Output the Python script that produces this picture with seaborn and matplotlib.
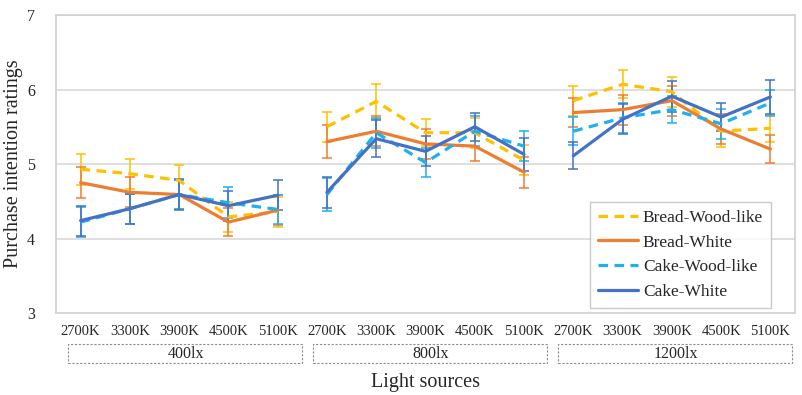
import numpy as np
import pandas as pd
import matplotlib
matplotlib.use('Agg')
import matplotlib.pyplot as plt
from matplotlib.patches import Rectangle
import seaborn as sns

# data
cct = ['2700K', '3300K', '3900K', '4500K', '5100K']
lux = ['400lx', '800lx', '1200lx']
series = ['Bread-Wood-like', 'Bread-White', 'Cake-Wood-like', 'Cake-White']

bread_wood = [4.93, 4.87, 4.78, 4.29, 4.36,
              5.50, 5.84, 5.42, 5.42, 5.05,
              5.85, 6.07, 5.97, 5.44, 5.48]
bread_white = [4.75, 4.62, 4.59, 4.22, 4.38,
               5.30, 5.44, 5.27, 5.24, 4.89,
               5.69, 5.73, 5.85, 5.47, 5.20]
cake_wood = [4.22, 4.40, 4.59, 4.48, 4.39,
             4.59, 5.42, 5.02, 5.44, 5.24,
             5.44, 5.62, 5.73, 5.54, 5.82]
cake_white = [4.24, 4.40, 4.59, 4.44, 4.58,
              4.62, 5.34, 5.17, 5.50, 5.13,
              5.11, 5.60, 5.91, 5.63, 5.90]

bread_wood_err = [0.21, 0.20, 0.20, 0.20, 0.20,
                  0.20, 0.23, 0.18, 0.20, 0.20,
                  0.20, 0.19, 0.20, 0.21, 0.18]
bread_white_err = [0.21, 0.20, 0.20, 0.19, 0.20,
                   0.22, 0.20, 0.20, 0.20, 0.21,
                   0.19, 0.20, 0.20, 0.20, 0.19]
cake_wood_err = [0.20, 0.20, 0.20, 0.21, 0.20,
                 0.22, 0.20, 0.20, 0.20, 0.20,
                 0.19, 0.20, 0.18, 0.20, 0.18]
cake_white_err = [0.20, 0.20, 0.21, 0.20, 0.20,
                  0.21, 0.25, 0.20, 0.19, 0.22,
                  0.18, 0.20, 0.21, 0.19, 0.23]

values = [bread_wood, bread_white, cake_wood, cake_white]
errors = [bread_wood_err, bread_white_err, cake_wood_err, cake_white_err]
colors = ['#FFC000', '#ED7D31', '#1FB0EE', '#4472C4']

rows = []
for s, v, e in zip(series, values, errors):
    for i in range(len(v)):
        rows.append({'pos': i, 'rating': v[i], 'err': e[i], 'series': s,
                     'group': lux[i // 5]})
df = pd.DataFrame(rows)

sns.set_style('white')
plt.rcParams['font.family'] = ['Liberation Serif', 'DejaVu Serif']

fig = plt.figure(figsize=(8.02, 3.95), dpi=100)
ax = fig.add_axes([0.0698, 0.2076, 0.9215, 0.7544])

for y in [4, 5, 6, 7]:
    ax.axhline(y, color='#D9D9D9', lw=1.2, zorder=0)

palette = dict(zip(series, colors))
dashes = {'Bread-Wood-like': (3, 2), 'Bread-White': '', 'Cake-Wood-like': (3, 2), 'Cake-White': ''}

# error bars first, then lines on top
for s, c in zip(series, colors):
    d = df[df['series'] == s]
    ax.errorbar(d['pos'], d['rating'], yerr=d['err'], fmt='none', ecolor=c,
                elinewidth=1.1, capsize=3.5, capthick=1.1, zorder=2)

sns.lineplot(data=df, x='pos', y='rating', hue='series', style='series',
             units='group', estimator=None, palette=palette, dashes=dashes,
             hue_order=series, style_order=series, lw=2.3, ax=ax, zorder=3)

ax.set_xlim(-0.5, 14.5)
ax.set_ylim(3, 7)
ax.set_yticks([3, 4, 5, 6, 7])
ax.set_xticks(range(15))
ax.set_xticklabels(cct * 3)
ax.tick_params(axis='y', length=0, pad=15, labelsize=11.5)
ax.tick_params(axis='x', length=0, pad=9, labelsize=10.5)
for sp in ax.spines.values():
    sp.set_color('#D0D0D0')
    sp.set_linewidth(1.2)

ax.set_ylabel('Purchase intention ratings', fontsize=14.5)
ax.yaxis.set_label_coords(-0.045, 0.5)
ax.set_xlabel('Light sources', fontsize=14.5)
ax.xaxis.set_label_coords(0.5, -0.232)
ax.xaxis.label.set_va('center')

# dashed group boxes under the tick labels
trans = ax.get_xaxis_transform()
for g, name in enumerate(lux):
    x0 = g * 4.97 - 0.26
    ax.add_patch(Rectangle((x0, -0.168), 4.75, 0.064, transform=trans,
                           fill=False, ec='#8C8C8C', lw=0.8, ls=(0, (2, 1.5)),
                           clip_on=False))
    ax.text(x0 + 2.4, -0.137, name, transform=trans, ha='center',
            va='center', fontsize=11.5)

leg = ax.legend(loc='lower right', bbox_to_anchor=(0.9675, 0.0168),
                borderaxespad=0, fontsize=12.5, frameon=True, fancybox=False,
                handlelength=2.3, handletextpad=0.3, labelspacing=0.5,
                borderpad=0.45)
leg.get_frame().set_edgecolor('#BFBFBF')
leg.get_frame().set_linewidth(1.0)
for h in leg.get_lines():
    h.set_linewidth(2.3)

fig.savefig('out.png', dpi=100)
